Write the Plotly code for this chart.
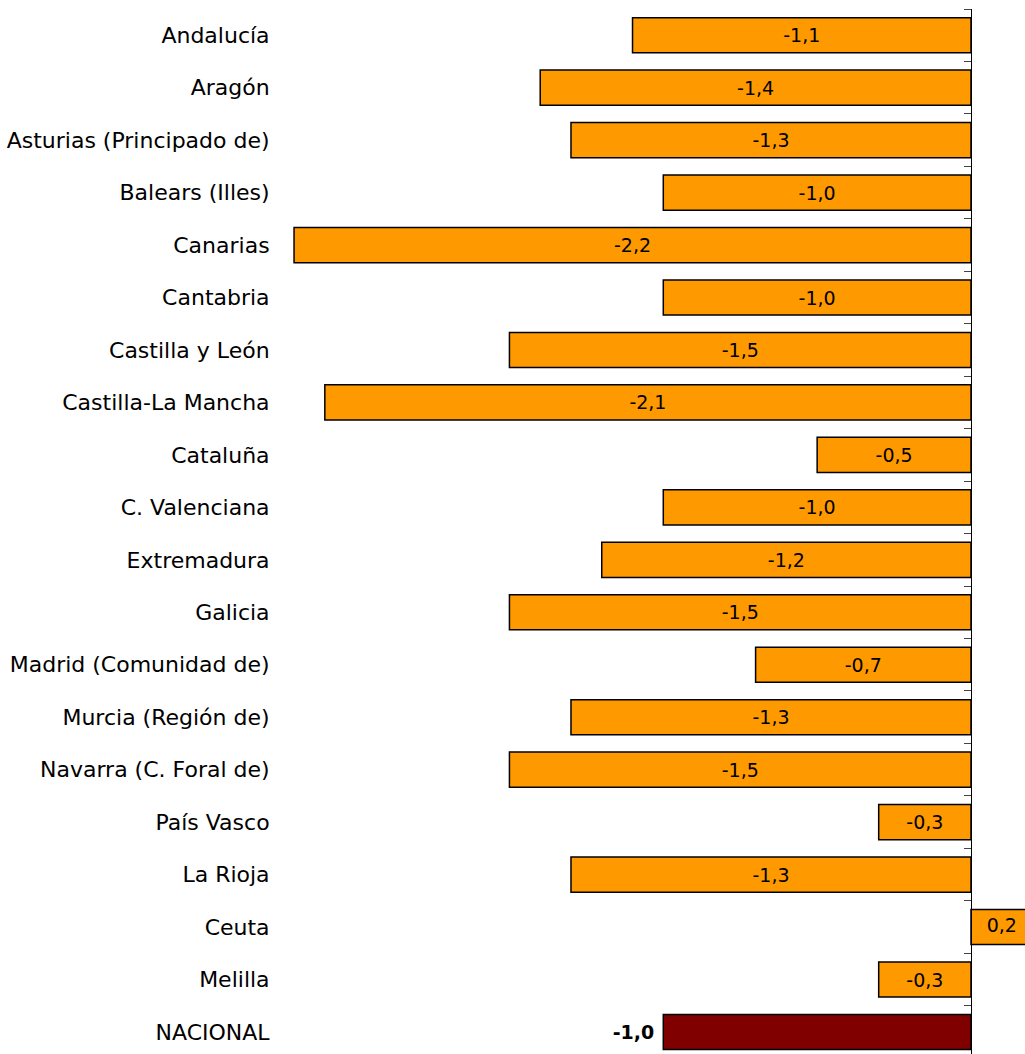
import plotly.graph_objects as go

regions = ["Andalucía", "Aragón", "Asturias (Principado de)", "Balears (Illes)", "Canarias",
           "Cantabria", "Castilla y León", "Castilla-La Mancha", "Cataluña", "C. Valenciana",
           "Extremadura", "Galicia", "Madrid (Comunidad de)", "Murcia (Región de)",
           "Navarra (C. Foral de)", "País Vasco", "La Rioja", "Ceuta", "Melilla"]
values = [-1.1, -1.4, -1.3, -1.0, -2.2, -1.0, -1.5, -2.1, -0.5, -1.0,
          -1.2, -1.5, -0.7, -1.3, -1.5, -0.3, -1.3, 0.2, -0.3]
national_label = ["NACIONAL"]
national_value = [-1.0]

all_cats = regions + national_label
FONT = "DejaVu Sans, Arial, sans-serif"

# bars whose end is cut by the right edge get their label drawn as a text mark
inside_mask = [v < 0 for v in values]
fig = go.Figure()
fig.add_trace(go.Bar(
    y=regions, x=values, orientation="h",
    marker=dict(color="#FF9900", line=dict(color="black", width=1.5)),
    width=0.67,
    text=[f"{v:.1f}".replace(".", ",") if m else "" for v, m in zip(values, inside_mask)],
    textposition="inside", insidetextanchor="middle",
    textangle=0, constraintext="none",
    textfont=dict(family=FONT, size=19, color="black"),
    cliponaxis=False, showlegend=False, hoverinfo="skip",
))
pos_regions = [r for r, m in zip(regions, inside_mask) if not m]
pos_values = [v for v, m in zip(values, inside_mask) if not m]
fig.add_trace(go.Scatter(
    y=pos_regions, x=[v / 2 for v in pos_values], mode="text",
    text=[f"{v:.1f}".replace(".", ",") for v in pos_values],
    textfont=dict(family=FONT, size=19, color="black"), textposition="middle center",
    cliponaxis=False, showlegend=False, hoverinfo="skip",
))
fig.add_trace(go.Bar(
    y=national_label, x=national_value, orientation="h",
    marker=dict(color="#800000", line=dict(color="black", width=1.5)),
    width=0.67,
    texttemplate="<b>%{x:.1f}</b>\u00a0", textposition="outside",
    textangle=0, constraintext="none",
    textfont=dict(family=FONT, size=19, color="black"),
    cliponaxis=False, showlegend=False, hoverinfo="skip",
))
fig.add_trace(go.Scatter(y=all_cats, x=[0] * len(all_cats), yaxis="y2", mode="markers",
                         marker=dict(opacity=0), showlegend=False, hoverinfo="skip"))

xmin, xmax = -2.2294, 0.1755
yrange = [19.42, -0.5]
fig.update_layout(
    width=1025, height=1054,
    margin=dict(l=285, r=0, t=9, b=0),
    plot_bgcolor="white", paper_bgcolor="white",
    separators=",.",
    barmode="overlay",
    font=dict(family=FONT, size=22, color="black"),
    xaxis=dict(range=[xmin, xmax], showgrid=False, zeroline=False, showticklabels=False,
               ticks="", showline=False, fixedrange=True),
    yaxis=dict(type="category", categoryorder="array", categoryarray=all_cats,
               range=yrange, showgrid=False, zeroline=False, showline=False,
               ticks="outside", ticklen=10, tickcolor="rgba(0,0,0,0)",
               tickfont=dict(family=FONT, size=22, color="black")),
    yaxis2=dict(type="category", categoryorder="array", categoryarray=all_cats,
                range=yrange, overlaying="y", anchor="free",
                position=(0 - xmin) / (xmax - xmin), side="left",
                showline=True, linecolor="black", linewidth=1.2,
                ticks="outside", tickson="boundaries", ticklen=7, tickcolor="#444",
                tickwidth=1, showticklabels=False, showgrid=False, zeroline=False),
)

fig.write_html("out.html", config={"displayModeBar": False},
               post_script="document.body.style.margin='0';document.body.style.overflow='hidden';")
